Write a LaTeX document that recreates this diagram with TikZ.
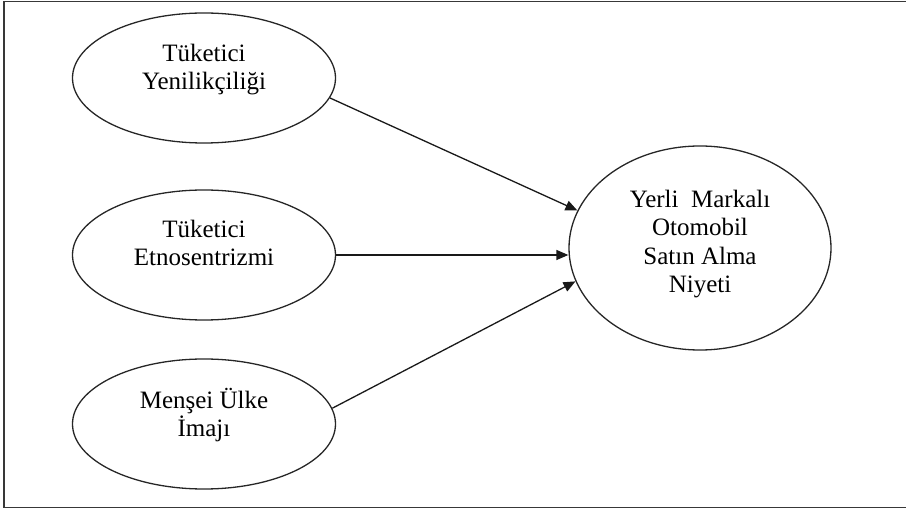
\documentclass[tikz,border=0pt]{standalone}
\usepackage{fontspec}
\setmainfont{Liberation Serif}
\usetikzlibrary{shapes.geometric,arrows.meta}
\begin{document}
\begin{tikzpicture}[x=1pt,y=-1pt,
  ell/.style={draw=black!85, line width=1.3pt, ellipse, inner sep=0pt,
              minimum width=263pt, minimum height=130pt},
  lbl/.style={font=\fontsize{25}{28.5}\selectfont, align=center, anchor=base, inner sep=0pt},
  conn/.style={draw=black!90, line width=1.3pt, -{Triangle[length=12pt,width=10pt]}}]
\useasboundingbox (0,0) rectangle (906,510);
\draw[line width=1.5pt, black!78] (906,1.5) -- (4,1.5) -- (4,507.5) -- (906,507.5);

\node[ell] (a) at (204,78) {};
\node[ell] (b) at (204,255) {};
\node[ell] (c) at (204,424) {};
\node[ell, minimum width=262pt, minimum height=204pt] (d) at (700,248) {};

\node[lbl] (ta) at (204,90) {Tüketici\\Yenilikçiliği};
\node[lbl] (tb) at (204,266) {Tüketici\\Etnosentrizmi};
\node[lbl] (tc) at (204,437) {Menşei Ülke\\İmajı};
\node[lbl] (td) at (700,293) {Yerli\ \ Markalı\\Otomobil\\Satın Alma\\Niyeti};

\draw[conn] (a.-9) -- (d.163);
\draw[conn] (b.east) -- (b.east -| d.west);
\draw[conn] (c.7) -- (d.195);
\end{tikzpicture}
\end{document}
